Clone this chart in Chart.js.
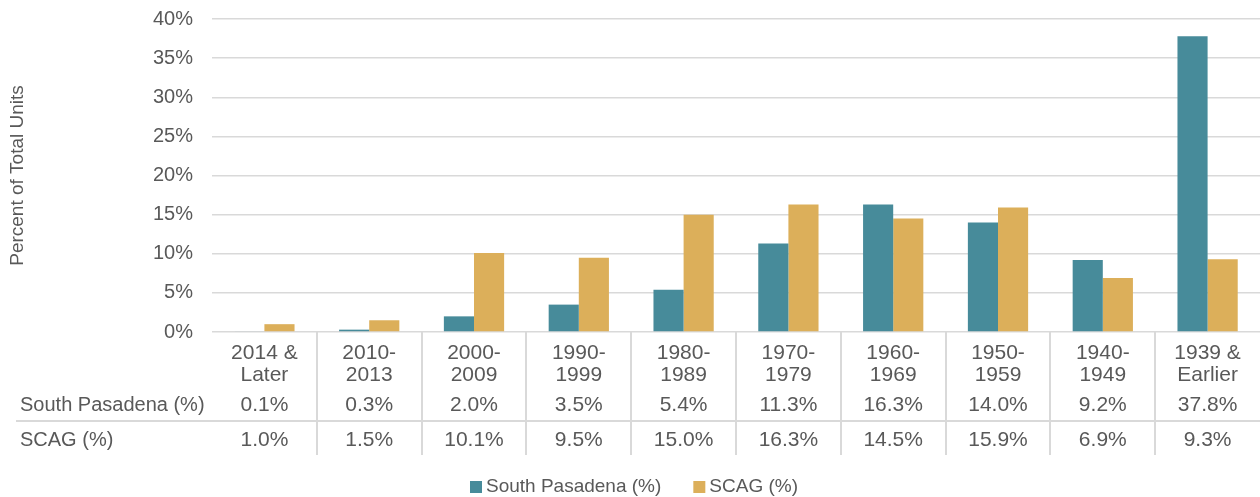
<!DOCTYPE html>
<html>
<head>
<meta charset="utf-8">
<script src="https://cdn.jsdelivr.net/npm/chart.js@4"></script>
<style>
  body { margin: 0; background: #fff; }
  canvas { display: block; }
</style>
</head>
<body>
<canvas id="chart" width="1260" height="497"></canvas>
<script>
// year built buckets, newest first
const categories = [
  ["2014 &", "Later"], ["2010-", "2013"], ["2000-", "2009"], ["1990-", "1999"], ["1980-", "1989"],
  ["1970-", "1979"], ["1960-", "1969"], ["1950-", "1959"], ["1940-", "1949"], ["1939 &", "Earlier"]
];
const southPasadena = [0.1, 0.3, 2.0, 3.5, 5.4, 11.3, 16.3, 14.0, 9.2, 37.8];
const scag = [1.0, 1.5, 10.1, 9.5, 15.0, 16.3, 14.5, 15.9, 6.9, 9.3];
const yMax = 40;
const yStep = 5;

const FONT = "'Liberation Sans', Arial, sans-serif";
const TEXT = '#595959';
const GRID = '#d9d9d9';

// data table underneath the axis + legend at the bottom
const tablePlugin = {
  id: 'dataTable',
  afterDraw(chart) {
    const ctx = chart.ctx;
    const x = chart.scales.x;
    const top = chart.chartArea.bottom;
    const rows = [
      { label: 'South Pasadena (%)', values: southPasadena, y: 405 },
      { label: 'SCAG (%)', values: scag, y: 440 }
    ];
    ctx.save();
    ctx.strokeStyle = GRID;
    ctx.lineWidth = 2;
    for (let i = 1; i < categories.length; i++) {
      const bx = Math.round((x.getPixelForValue(i - 1) + x.getPixelForValue(i)) / 2);
      ctx.beginPath();
      ctx.moveTo(bx, top);
      ctx.lineTo(bx, 455);
      ctx.stroke();
    }
    ctx.beginPath();
    ctx.moveTo(16, 421);
    ctx.lineTo(chart.chartArea.right, 421);
    ctx.stroke();

    ctx.fillStyle = TEXT;
    ctx.textBaseline = 'middle';
    rows.forEach(r => {
      ctx.font = '20px ' + FONT;
      ctx.textAlign = 'left';
      ctx.fillText(r.label, 20, r.y);
      ctx.font = '21px ' + FONT;
      ctx.textAlign = 'center';
      r.values.forEach((v, i) => {
        ctx.fillText(v.toFixed(1) + '%', x.getPixelForValue(i), r.y);
      });
    });

    // legend
    const sets = chart.data.datasets;
    ctx.font = '19px ' + FONT;
    const box = 12, gap = 4, spacing = 32;
    const widths = sets.map(d => box + gap + ctx.measureText(d.label).width);
    const total = widths.reduce((a, b) => a + b, 0) + spacing * (sets.length - 1);
    let lx = 634 - total / 2;
    const ly = 487;
    ctx.textAlign = 'left';
    sets.forEach((d, i) => {
      ctx.fillStyle = d.backgroundColor;
      ctx.fillRect(lx, ly - box / 2, box, box);
      ctx.fillStyle = TEXT;
      ctx.fillText(d.label, lx + box + gap, ly);
      lx += widths[i] + spacing;
    });
    ctx.restore();
  }
};

new Chart(document.getElementById('chart'), {
  type: 'bar',
  data: {
    labels: categories,
    datasets: [
      { label: 'South Pasadena (%)', data: southPasadena, backgroundColor: '#478b9a' },
      { label: 'SCAG (%)', data: scag, backgroundColor: '#dcaf5a' }
    ]
  },
  options: {
    responsive: false,
    animation: false,
    devicePixelRatio: 1,
    layout: { padding: { top: 19, left: 0, right: 0, bottom: 51 } },
    datasets: { bar: { barPercentage: 1, categoryPercentage: 0.575 } },
    scales: {
      x: {
        grid: { display: false },
        border: { display: false },
        ticks: { color: TEXT, font: { family: FONT, size: 21, lineHeight: 1.05 }, padding: 2, maxRotation: 0, autoSkip: false },
        afterFit(scale) { scale.height = 114; }
      },
      y: {
        min: 0,
        max: yMax,
        // invisible tick marks give the gap between labels and plot
        grid: { color: GRID, lineWidth: 1.5, drawTicks: true, tickLength: 19, tickColor: 'rgba(0,0,0,0)' },
        border: { display: false },
        ticks: {
          stepSize: yStep,
          color: TEXT,
          font: { family: FONT, size: 20 },
          padding: 0,
          callback: v => v + '%'
        },
        title: {
          display: true,
          text: 'Percent of Total Units',
          color: TEXT,
          font: { family: FONT, size: 19 },
          padding: { top: 6, bottom: 0 }
        },
        afterFit(scale) { scale.width = 212; }
      }
    },
    plugins: {
      legend: { display: false },
      tooltip: { enabled: false }
    }
  },
  plugins: [tablePlugin]
});
</script>
</body>
</html>
